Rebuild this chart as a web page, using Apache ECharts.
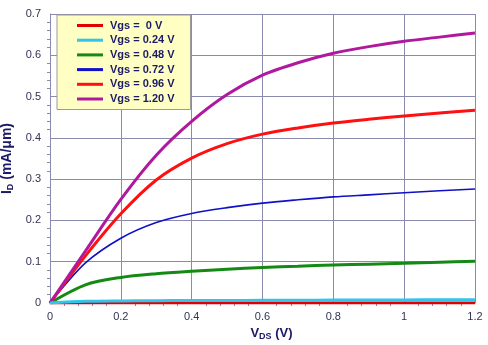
<!DOCTYPE html>
<html><head><meta charset="utf-8">
<script src="https://cdn.jsdelivr.net/npm/echarts@6/dist/echarts.min.js"></script>
<style>html,body{margin:0;padding:0;background:#fff}#c{width:488px;height:345px}</style>
</head><body><div id="c"></div>
<script>
var vds = [0, 0.1, 0.2, 0.3, 0.4, 0.5, 0.6, 0.7, 0.8, 0.9, 1.0, 1.1, 1.2];
var names = ['Vgs =  0 V', 'Vgs = 0.24 V', 'Vgs = 0.48 V', 'Vgs = 0.72 V', 'Vgs = 0.96 V', 'Vgs = 1.20 V'];
var id000 = [0, 0, 0, 0, 0, 0, 0, 0, 0, 0, 0, 0, 0];
var id024 = [0, 0.004, 0.005, 0.0055, 0.006, 0.0062, 0.0065, 0.0068, 0.007, 0.0072, 0.0075, 0.0078, 0.008];
var id048 = [0, 0.044, 0.062, 0.071, 0.077, 0.082, 0.086, 0.089, 0.092, 0.094, 0.096, 0.099, 0.101];
var id072 = [0, 0.097, 0.157, 0.195, 0.217, 0.231, 0.242, 0.250, 0.257, 0.262, 0.267, 0.272, 0.276];
var id096 = [0, 0.114, 0.216, 0.298, 0.351, 0.386, 0.409, 0.424, 0.436, 0.445, 0.453, 0.460, 0.467];
var id120 = [0, 0.126, 0.251, 0.358, 0.44, 0.505, 0.552, 0.582, 0.605, 0.621, 0.634, 0.644, 0.654];
var allData = [id000, id024, id048, id072, id096, id120];
var colors = ['#e00000', '#33c4ea', '#148a14', '#1010c8', '#ff1010', '#b0189e'];
var widths = [3, 3, 3, 1.6, 3, 3];

function pairs(ys) { return vds.map(function (x, i) { return [x, ys[i]]; }); }

var series = [];
for (var k = 0; k < allData.length; k++) {
  series.push({
    name: names[k], type: 'line', data: pairs(allData[k]), smooth: 0.3,
    showSymbol: false, symbol: 'none', z: 2 + k,
    lineStyle: { color: colors[k], width: widths[k] },
    itemStyle: { color: colors[k] }
  });
}
series[1].z = 10;

var chart = echarts.init(document.getElementById('c'), null, { renderer: 'canvas' });
var navy = '#1a1a66';
var grid = '#8a8aae';
var font = 'Liberation Sans, Arial';
chart.setOption({
  animation: false,
  backgroundColor: '#fff',
  grid: { left: 50, right: 13, top: 14, bottom: 42, outerBoundsMode: 'none', containLabel: false },
  legend: {
    data: names, orient: 'vertical', left: 57, top: 15,
    backgroundColor: '#ffffc4', borderColor: '#9a9a9a', borderWidth: 1,
    padding: [5, 16, 5, 20], itemGap: 3.7, itemWidth: 26, itemHeight: 3,
    icon: 'rect',
    textStyle: { fontFamily: font, fontWeight: 'bold', fontSize: 11, color: navy, padding: [0, 0, 0, 2] }
  },
  xAxis: {
    type: 'value', min: 0, max: 1.2, interval: 0.2,
    name: '{a|V}{b|DS}{a| (V)}', nameLocation: 'middle', nameGap: 22,
    nameTextStyle: { padding: [0, 0, 0, 18], rich: {
      a: { fontFamily: font, fontWeight: 'bold', fontSize: 13, color: navy },
      b: { fontFamily: font, fontWeight: 'bold', fontSize: 9, color: navy, verticalAlign: 'bottom', padding: [6, 0, 0, 0] }
    } },
    axisLine: { show: true, lineStyle: { color: grid } },
    axisTick: { show: false },
    minorTick: { show: true, splitNumber: 5, length: 3, lineStyle: { color: grid } },
    splitLine: { show: true, lineStyle: { color: grid, width: 1 } },
    axisLabel: { color: '#333355', fontFamily: font, fontSize: 11, margin: 8 }
  },
  yAxis: {
    type: 'value', min: 0, max: 0.7, interval: 0.1,
    name: '{a|I}{b|D}{a| (mA/μm)}', nameLocation: 'middle', nameGap: 24, nameRotate: 90,
    nameTextStyle: { rich: {
      a: { fontFamily: font, fontWeight: 'bold', fontSize: 14, color: navy },
      b: { fontFamily: font, fontWeight: 'bold', fontSize: 9, color: navy, verticalAlign: 'bottom', padding: [6, 0, 0, 0] }
    } },
    axisLine: { show: true, lineStyle: { color: grid } },
    axisTick: { show: false },
    minorTick: { show: true, splitNumber: 5, length: 3, lineStyle: { color: grid } },
    splitLine: { show: true, lineStyle: { color: grid, width: 1 } },
    axisLabel: { color: '#333355', fontFamily: font, fontSize: 11, margin: 9 }
  },
  series: series
});
</script>
</body></html>
